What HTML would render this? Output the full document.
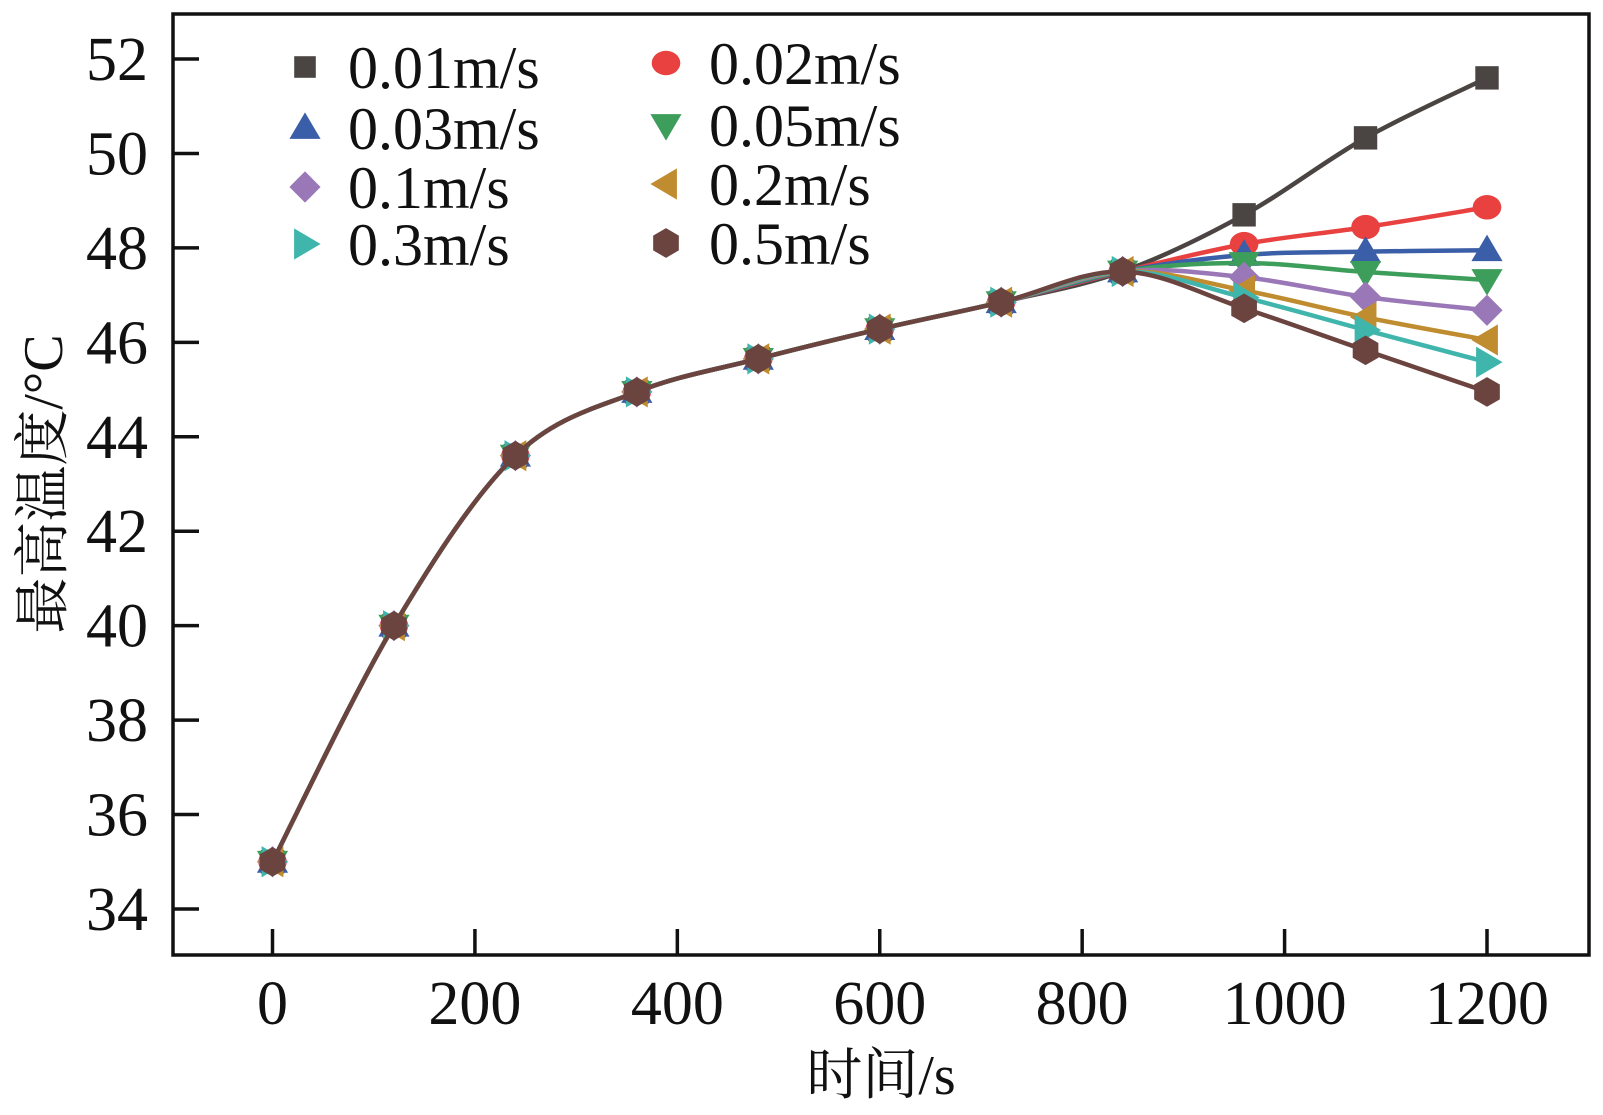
<!DOCTYPE html>
<html><head><meta charset="utf-8"><style>
html,body{margin:0;padding:0;background:#fff;}
svg{display:block;}
text{font-family:"Liberation Serif","Times New Roman",Times,serif;fill:#111;}
text.cjk{font-family:"Liberation Serif","Noto Serif CJK SC",serif;}
</style></head><body>
<svg id="chart" width="1603" height="1115" viewBox="0 0 1603 1115" xmlns="http://www.w3.org/2000/svg">
<rect x="173" y="14" width="1416" height="941" fill="none" stroke="#111" stroke-width="3.5"/>
<g id="ticks"></g>
<g id="series"></g>
<g id="legend"></g>
<text class="cjk" x="881" y="1094" font-size="56" text-anchor="middle">时间/s</text>
<text class="cjk" transform="translate(62,484) rotate(-90)" font-size="56" text-anchor="middle">最高温度/°C</text>
</svg>
<script>
const xTicks = [0,200,400,600,800,1000,1200];
const yTicks = [34,36,38,40,42,44,46,48,50,52];
const times = [0,120,240,360,480,600,720,840,960,1080,1200];
const common = [35,40,43.6,44.95,45.65,46.28,46.85,47.5];
const labels = ["0.01m/s","0.02m/s","0.03m/s","0.05m/s","0.1m/s","0.2m/s","0.3m/s","0.5m/s"];
const tail001 = [48.7,50.33,51.6];
const tail002 = [48.08,48.44,48.86];
const tail003 = [47.85,47.92,47.95];
const tail005 = [47.68,47.49,47.32];
const tail01 = [47.38,46.96,46.68];
const tail02 = [47.1,46.53,46.05];
const tail03 = [46.95,46.26,45.58];
const tail05 = [46.72,45.83,44.95];
const tails = [tail001,tail002,tail003,tail005,tail01,tail02,tail03,tail05];
const colors = ["#4a4542","#e8413f","#3b5ea8","#3c9e5a","#9a78b8","#c08c30","#3fb5ac","#6b4440"];
const shapes = ["square","circle","tri-up","tri-down","diamond","tri-left","tri-right","hex"];

const NS="http://www.w3.org/2000/svg";
function X(v){return 272.5+(v-0)*(1487-272.5)/1200;}
function Y(v){return 909-(v-34)*(909-59)/18;}
function mk(tag,attrs,parent){const e=document.createElementNS(NS,tag);for(const k in attrs)e.setAttribute(k,attrs[k]);parent.appendChild(e);return e;}

const tg=document.getElementById('ticks');
xTicks.forEach(t=>{
  const l=mk('line',{x1:X(t),x2:X(t),y1:955,y2:929,stroke:'#111','stroke-width':3.5},tg);
  
  
  const tx=mk('text',{x:X(t),y:1024,'font-size':62,'text-anchor':'middle'},tg);
  tx.textContent=t;
  
  
});
yTicks.forEach(t=>{
  const l=mk('line',{x1:173,x2:199,y1:Y(t),y2:Y(t),stroke:'#111','stroke-width':3.5},tg);
  
  
  const tx=mk('text',{x:148,y:Y(t)+21,'font-size':62,'text-anchor':'end'},tg);
  tx.textContent=t;
  
  
});

function marker(shape,cx,cy,s,color,parent){
  let e;
  if(shape==='square') e=mk('rect',{x:cx-s*0.45,y:cy-s*0.45,width:s*0.9,height:s*0.9,fill:color},parent);
  else if(shape==='circle') e=mk('ellipse',{cx:cx,cy:cy,rx:s*0.55,ry:s*0.47,fill:color},parent);
  else {
    let pts;
    const r=s*0.6;
    if(shape==='tri-up') pts=[[0,-r],[r,r*0.7],[-r,r*0.7]];
    else if(shape==='tri-down') pts=[[0,r],[r,-r*0.7],[-r,-r*0.7]];
    else if(shape==='tri-left') pts=[[-r,0],[r*0.7,-r],[r*0.7,r]];
    else if(shape==='tri-right') pts=[[r,0],[-r*0.7,-r],[-r*0.7,r]];
    else if(shape==='diamond') pts=[[0,-r],[r,0],[0,r],[-r,0]];
    else {pts=[];for(let i=0;i<6;i++){const a=Math.PI/6+i*Math.PI/3;pts.push([r*0.95*Math.cos(a),r*0.95*Math.sin(a)]);}}
    e=mk('polygon',{points:pts.map(p=>(cx+p[0])+','+(cy+p[1])).join(' '),fill:color},parent);
  }
  return e;
}
function smooth(P){
  let d='M'+P[0][0]+','+P[0][1];
  for(let i=0;i<P.length-1;i++){
    const p0=P[Math.max(0,i-1)],p1=P[i],p2=P[i+1],p3=P[Math.min(P.length-1,i+2)];
    const c1=[p1[0]+(p2[0]-p0[0])/6,p1[1]+(p2[1]-p0[1])/6];
    const c2=[p2[0]-(p3[0]-p1[0])/6,p2[1]-(p3[1]-p1[1])/6];
    d+=' C'+c1[0]+','+c1[1]+' '+c2[0]+','+c2[1]+' '+p2[0]+','+p2[1];
  }
  return d;
}
const sg=document.getElementById('series');
tails.forEach((tail,i)=>{
  const vals=common.concat(tail);
  const P=vals.map((v,j)=>[X(times[j]),Y(v)]);
  const g=mk('g',{},sg);
  
  
  const p=mk('path',{d:smooth(P),fill:'none',stroke:colors[i],'stroke-width':4.5},g);
  
  
  P.forEach(pt=>{
    const m=marker(shapes[i],pt[0],pt[1],26,colors[i],g);
    
    
  });
});

const lg=document.getElementById('legend');
const legPos=[[305,67],[666,63],[305,128],[666,125],[305,187],[666,184],[305,244],[666,243]];
labels.forEach((lab,i)=>{
  const [mx,my]=legPos[i];
  const g=mk('g',{},lg);
  
  
  marker(shapes[i],mx,my,shapes[i]==='square'?24:26,colors[i],g);
  const t=mk('text',{x:mx+43,y:my+21,'font-size':60},g);
  t.textContent=lab;
});
</script>
</body></html>
